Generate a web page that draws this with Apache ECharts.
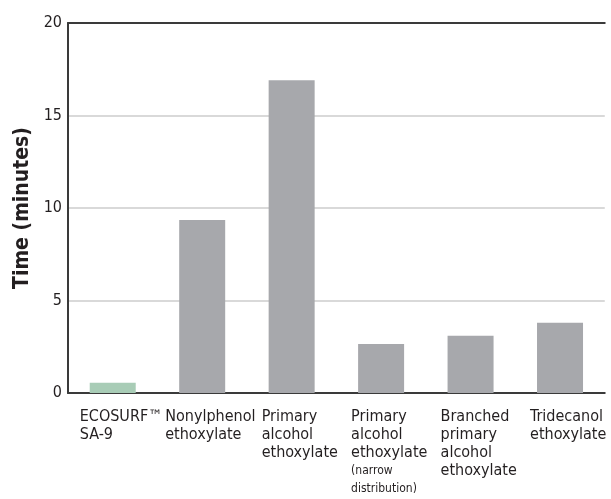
<!DOCTYPE html>
<html>
<head>
<meta charset="utf-8">
<script src="https://cdn.jsdelivr.net/npm/echarts@6/dist/echarts.min.js"></script>
<style>
  html, body { margin: 0; padding: 0; background: #ffffff; }
  #chart { width: 611px; height: 499px; }
</style>
</head>
<body>
<div id="chart"></div>
<script>
const categories = [
  'ECOSURF™\nSA-9',
  'Nonylphenol\nethoxylate',
  'Primary\nalcohol\nethoxylate',
  'Primary\nalcohol\nethoxylate\n(narrow\ndistribution)',
  'Branched\nprimary\nalcohol\nethoxylate',
  'Tridecanol\nethoxylate'
];
const smallLines = ['(narrow', 'distribution)'];
const times = [0.55, 9.35, 16.9, 2.65, 3.1, 3.8];
const barColors = ['#a8ccb6', '#a7a8ac', '#a7a8ac', '#a7a8ac', '#a7a8ac', '#a7a8ac'];
const yTicks = [0, 5, 10, 15, 20];
const yTitle = 'Time (minutes)';

const FONT = '"DejaVu Sans Condensed", "Liberation Sans Narrow", sans-serif';
const ctx = document.createElement('canvas').getContext('2d');
function measure(text, size) {
  ctx.font = size + 'px ' + FONT;
  return ctx.measureText(text).width;
}

const rich = {};
categories.forEach((c, i) => {
  const lines = c.split('\n');
  let w = 0;
  lines.forEach(l => {
    const s = smallLines.includes(l) ? 12 : 16;
    w = Math.max(w, measure(l, s));
  });
  w = Math.ceil(w) + 1;
  rich['m' + i] = { width: w, align: 'left', padding: [0, 0, 0, 18], fontSize: 16, lineHeight: 18, color: '#231f20', fontFamily: FONT };
  rich['s' + i] = { width: w, align: 'left', padding: [0, 0, 0, 18], fontSize: 12, lineHeight: 18, color: '#231f20', fontFamily: FONT };
});

const axisColor = '#3a3a3a';
const chart = echarts.init(document.getElementById('chart'), null, { renderer: 'canvas' });
chart.setOption({
  animation: false,
  backgroundColor: '#ffffff',
  grid: { left: 68, right: 6, top: 23, bottom: 106 },
  xAxis: [{
    type: 'category',
    data: categories,
    axisLine: { show: true, lineStyle: { color: axisColor, width: 2 } },
    axisTick: { show: false },
    axisLabel: {
      interval: 0,
      margin: 15,
      formatter: function (value, idx) {
        return value.split('\n').map(l => '{' + (smallLines.includes(l) ? 's' : 'm') + idx + '|' + l + '}').join('\n');
      },
      rich: rich
    }
  }, {
    type: 'category',
    position: 'top',
    data: categories,
    axisLine: { show: true, lineStyle: { color: axisColor, width: 2 } },
    axisTick: { show: false },
    axisLabel: { show: false }
  }],
  yAxis: {
    type: 'value',
    min: yTicks[0],
    max: yTicks[yTicks.length - 1],
    interval: 5,
    name: yTitle,
    nameLocation: 'middle',
    nameGap: 31,
    nameTextStyle: { fontSize: 21, fontWeight: 'bold', color: '#231f20', fontFamily: FONT },
    axisLine: { show: true, lineStyle: { color: axisColor, width: 2 } },
    axisTick: { show: false },
    axisLabel: { margin: 6, fontSize: 16, color: '#231f20', fontFamily: FONT },
    splitLine: { show: true, lineStyle: { color: '#d9d9d9', width: 2 } }
  },
  series: [{
    type: 'bar',
    xAxisIndex: 0,
    data: times.map((v, i) => ({ value: v, itemStyle: { color: barColors[i] } })),
    barWidth: 46
  }]
});
</script>
</body>
</html>
